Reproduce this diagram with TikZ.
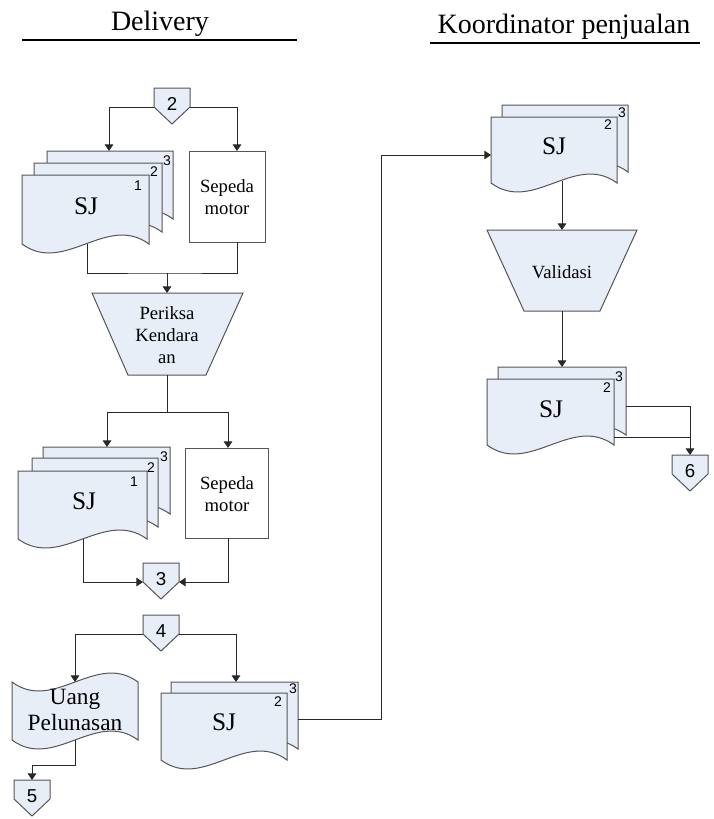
\documentclass[tikz,border=0pt]{standalone}
\usepackage{fontspec}
\setmainfont{Liberation Serif}
\newfontfamily\numfont{Liberation Sans}
\usetikzlibrary{arrows.meta}

\definecolor{shfill}{RGB}{232,238,248}
\definecolor{shdraw}{RGB}{85,85,85}
\definecolor{lncol}{RGB}{40,40,40}

\tikzset{
  shp/.style={draw=shdraw, fill=shfill, line width=0.75pt, line join=miter},
  wbox/.style={draw=shdraw, fill=white, line width=0.75pt},
  conn/.style={draw=lncol, line width=0.7pt},
  arr/.style={conn, -{Triangle[length=5pt,width=6.5pt]}},
  lbl/.style={font=\fontsize{14}{16.5}\selectfont, align=center, inner sep=0pt},
  tapelbl/.style={font=\fontsize{17.5}{20}\selectfont, align=center, inner sep=0pt},
  sjlbl/.style={font=\fontsize{19}{21}\selectfont, inner sep=0pt},
  num/.style={font=\numfont\fontsize{10.5}{11}\selectfont, inner sep=0pt},
  cnum/.style={font=\numfont\fontsize{14}{15}\selectfont, inner sep=0pt},
  hdr/.style={font=\fontsize{21}{24}\selectfont, inner sep=0pt, anchor=base},
}

% document sheet: x0, ytop, x1, ybase
\newcommand\mdoc[4]{%
  \path[shp] (#1,#4) -- (#1,#2) -- (#3,#2) -- (#3,#4)
    .. controls ({#3-(#3-#1)/3},{#4-31}) and ({#1+(#3-#1)/3},{#4+31}) .. (#1,#4) -- cycle;}
% off-page connector: name, cx, ytop, digit
\newcommand\pent[4]{%
  \path[shp] (#2-18,#3) -- (#2+18,#3) -- (#2+18,#3+19) -- (#2,#3+36) -- (#2-18,#3+19) -- cycle;
  \coordinate (#1-t) at (#2,#3);
  \coordinate (#1-l) at (#2-18,#3+19);
  \coordinate (#1-r) at (#2+18,#3+19);
  \node[cnum] (#1-txt) at (#2,#3+16) {#4};}

\begin{document}
\begin{tikzpicture}[x=0.75pt,y=-0.75pt]
\useasboundingbox (0,0) rectangle (714,819);

% headers
\node[hdr] (hdel) at (160,30) {Delivery};
\node[hdr] (hkoor) at (564,33) {Koordinator penjualan};
\draw[line width=0.8pt] (22,40) -- (297,40);
\draw[line width=0.8pt] (430,43) -- (700,43);

% ---------- connector 2 ----------
\pent{p2}{172}{88}{2}

% stack 1
\mdoc{47}{151}{173}{219}
\mdoc{34}{163}{162}{232}
\mdoc{22}{175}{149}{244}
\node[num] (s1n3) at (167,161) {3};
\node[num] (s1n2) at (154,172) {2};
\node[num] (s1n1) at (138,186) {1};
\node[sjlbl] (s1sj) at (86,206) {SJ};
\coordinate (s1t) at (109,151);
\coordinate (s1b) at (87,244);

% box 1
\path[wbox] (189,151) rectangle (265,242);
\node[lbl] (b1) at (227,197) {Sepeda\\motor};
\coordinate (b1t) at (237,151);
\coordinate (b1b) at (237,242);

\draw[arr] (p2-l) -| (s1t);
\draw[arr] (p2-r) -| (b1t);

% trapezoid 1
\path[shp] (92,293) -- (243,293) -- (206,375) -- (128,375) -- cycle;
\node[lbl] (t1) at (167,335) {Periksa\\Kendara\\an};
\coordinate (t1t) at (167,293);
\coordinate (t1b) at (167,375);
\coordinate (m1) at (167,273);
\draw[conn] (s1b) |- (m1) -| (b1b);
\draw[arr] (m1) -- (t1t);

% stack 2
\mdoc{43}{447}{170}{514}
\mdoc{32}{458}{158}{527}
\mdoc{18}{471}{147}{539}
\node[num] (s2n3) at (164,457) {3};
\node[num] (s2n2) at (151,468) {2};
\node[num] (s2n1) at (134,482) {1};
\node[sjlbl] (s2sj) at (84,501) {SJ};
\coordinate (s2t) at (107,447);
\coordinate (s2b) at (83,539);

% box 2
\path[wbox] (185,448) rectangle (268,538);
\node[lbl] (b2) at (227,494) {Sepeda\\motor};
\coordinate (b2t) at (228,448);
\coordinate (b2b) at (228,538);

\coordinate (m2) at (167,412);
\draw[conn] (t1b) -- (m2);
\draw[arr] (m2) -| (s2t);
\draw[arr] (m2) -| (b2t);

% connector 3
\pent{p3}{161}{563}{3}
\draw[arr] (s2b) |- (p3-l);
\draw[arr] (b2b) |- (p3-r);

% connector 4
\pent{p4}{161}{615}{4}

% punched tape
\path[shp] (12,682) .. controls (54,713) and (96,651) .. (138,682) -- (138,740)
  .. controls (96,709) and (54,771) .. (12,740) -- cycle;
\node[tapelbl] (tape) at (75,710) {Uang\\Pelunasan};
\coordinate (tpt) at (75,682);
\coordinate (tpb) at (75,740);

% stack 3
\mdoc{171}{682}{298}{749}
\mdoc{161}{693}{287}{760}
\node[num] (s3n3) at (293,689) {3};
\node[num] (s3n2) at (278,702) {2};
\node[sjlbl] (s3sj) at (224,722) {SJ};
\coordinate (s3t) at (236,682);
\coordinate (s3r) at (298,719);

\draw[arr] (p4-l) -| (tpt);
\draw[arr] (p4-r) -| (s3t);

% connector 5
\pent{p5}{32}{780}{5}
\coordinate (k5) at (32,765);
\draw[arr] (tpb) |- (k5) -- (p5-t);

% ---------- right lane ----------
% stack 4
\mdoc{502}{105}{628}{172}
\mdoc{491}{117}{617}{183}
\node[num] (s4n3) at (622,113) {3};
\node[num] (s4n2) at (608,125) {2};
\node[sjlbl] (s4sj) at (554,146) {SJ};
\coordinate (s4l) at (491,155);
\coordinate (s4b) at (562,181);

\coordinate (bend) at (381,155);
\draw[arr] (s3r) -| (bend) -- (s4l);

% trapezoid 2
\path[shp] (487,230) -- (637,230) -- (600,311) -- (524,311) -- cycle;
\node[lbl] (t2) at (562,272) {Validasi};
\coordinate (t2t) at (562,230);
\coordinate (t2b) at (562,311);
\draw[arr] (s4b) -- (t2t);

% stack 5
\mdoc{498}{367}{626}{435}
\mdoc{487}{379}{614}{445}
\node[num] (s5n3) at (619,377) {3};
\node[num] (s5n2) at (607,388) {2};
\node[sjlbl] (s5sj) at (551,409) {SJ};
\coordinate (s5t) at (562,367);
\coordinate (s5r1) at (626,406);
\coordinate (s5r2) at (614,437);
\draw[arr] (t2b) -- (s5t);

% connector 6
\pent{p6}{690}{455}{6}
\coordinate (k6a) at (690,406);
\coordinate (k6b) at (690,437);
\draw[conn] (s5r1) -- (k6a);
\draw[conn] (s5r2) -- (k6b);
\draw[arr] (k6a) -- (p6-t);

\end{tikzpicture}
\end{document}
